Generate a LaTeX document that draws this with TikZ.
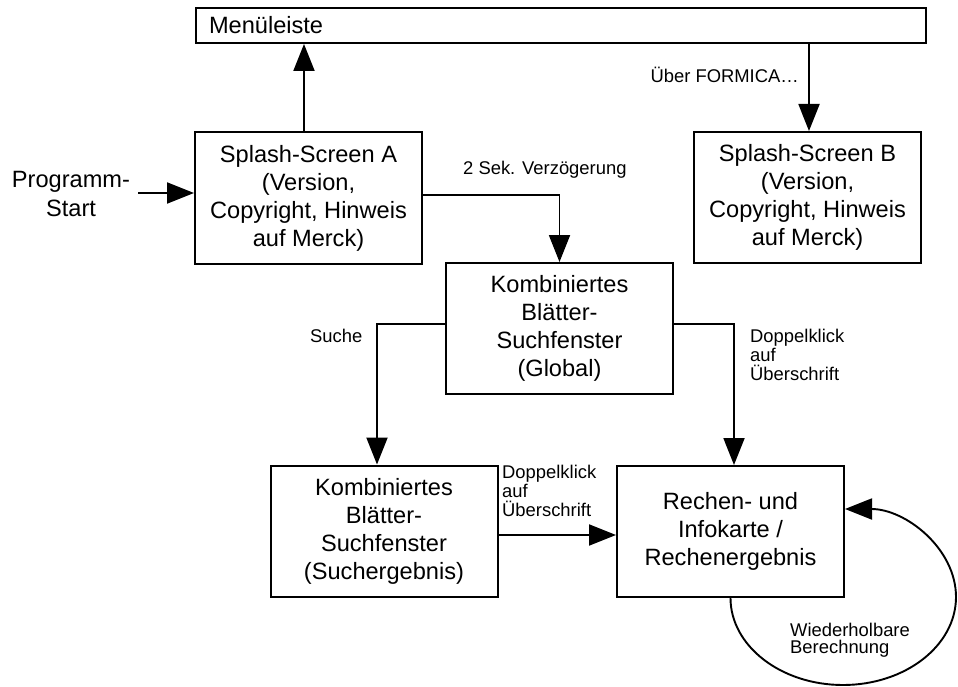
\documentclass[tikz,border=0pt]{standalone}
\usepackage{fontspec}
\setmainfont{Liberation Sans}
\usetikzlibrary{arrows.meta}
\begin{document}
\begin{tikzpicture}[x=1pt,y=-1pt,
  box/.style={draw, line width=2pt, minimum width=227pt, minimum height=131pt,
    inner sep=0pt, align=center, font=\fontsize{23.6}{28}\selectfont},
  lbl/.style={inner sep=0pt, font=\fontsize{18.4}{19}\selectfont},
  conn/.style={line width=1.9pt},
  arr/.style={conn, -{Triangle[length=27pt,width=21pt]}}]
\useasboundingbox (0,0) rectangle (958,687);

% boxes
\node[draw, line width=2pt, minimum width=730pt, minimum height=35pt, inner ysep=0pt,
  inner xsep=13pt, text width=704pt, align=left, anchor=north west,
  font=\fontsize{23.6}{28}\selectfont] (menu) at (195,7) {Menüleiste};
\node[box] (A) at (308.5,198) {Splash-Screen A\\(Version,\\Copyright, Hinweis\\auf Merck)};
\node[box] (B) at (807.5,197.5) {Splash-Screen B\\(Version,\\Copyright, Hinweis\\auf Merck)};
\node[box] (G) at (559.5,328.5) {Kombiniertes\\Blätter-\\Suchfenster\\(Global)};
\node[box] (S) at (384,531) {Kombiniertes\\Blätter-\\Suchfenster\\(Suchergebnis)};
\node[box] (R) at (730.5,531.5) {Rechen- und\\Infokarte /\\Rechenergebnis};

% start text
\node[inner sep=0pt, anchor=base, font=\fontsize{23.6}{29}\selectfont] (start) at (71,188)
  {\vtop{\halign{\hfil#\hfil\cr Programm-\cr Start\cr}}};
\coordinate (s0) at (138,193);

% labels
\node[lbl, anchor=base east] (lf) at (799,83) {Über FORMICA…};
\node[lbl, anchor=base west] (l2) at (463,175) {2 Sek. Verzögerung};
\node[lbl, anchor=base west] (ls) at (310,342) {Suche};
\node[lbl, anchor=base west] (ld1) at (750,342) {\vtop{\hbox{Doppelklick}\hbox{auf}\hbox{Überschrift}}};
\node[lbl, anchor=base west] (ld2) at (502,478) {\vtop{\hbox{Doppelklick}\hbox{auf}\hbox{Überschrift}}};
\node[lbl, anchor=base west, font=\fontsize{18.4}{17}\selectfont] (lw) at (790,636)
  {\vtop{\hbox{Wiederholbare}\hbox{Berechnung}}};

% connectors
\draw[arr] ([xshift=-4.5pt]A.north) -- ([xshift=-4.5pt]A.north |- menu.south);
\draw[arr] ([xshift=1.5pt]B.north |- menu.south) -- ([xshift=1.5pt]B.north);
\draw[arr] (s0) -- (A.west |- s0);
\draw[arr] (A.east |- 0,195) -| (G.north);
\draw[arr] (G.west |- 0,324) -| ([xshift=-7pt]S.north);
\draw[arr] (G.east |- 0,324) -| ([xshift=3.5pt]R.north);
\draw[arr] (S.east |- 0,535) -- (R.west |- 0,535);
\draw[arr] (R.south) .. controls (730.5,645.6) and (780.6,685) .. (843,685)
  .. controls (905.4,685) and (956,645.6) .. (956,597)
  .. controls (956,548.4) and (905.4,509) .. (R.east |- 0,509);
\end{tikzpicture}
\end{document}
